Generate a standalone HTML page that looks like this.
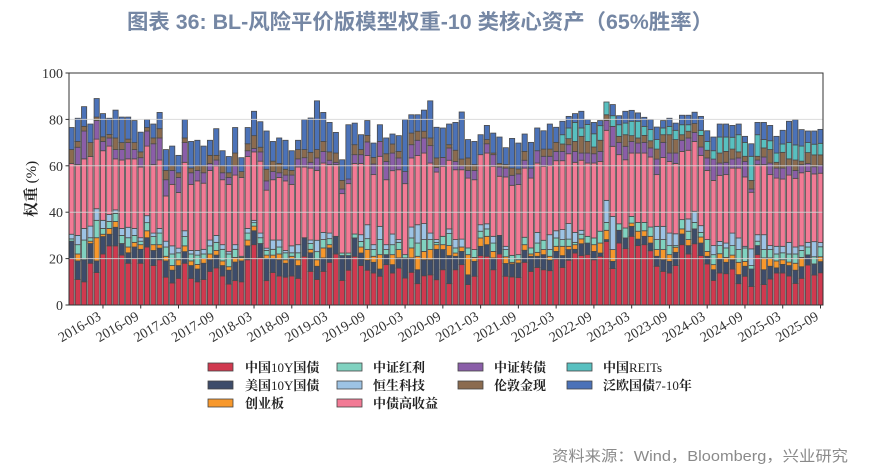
<!DOCTYPE html>
<html>
<head>
<meta charset="utf-8">
<style>
html,body{margin:0;padding:0;background:#fff;}
svg{display:block;}
.tk{font-family:"Liberation Serif","Noto Serif CJK SC",serif;font-size:14px;fill:#333;}
.lg{font-family:"Liberation Serif","Noto Serif CJK SC",serif;font-size:13px;fill:#222;}
.cj{font-weight:bold;}
</style>
</head>
<body>
<svg id="chart" width="871" height="468" viewBox="0 0 871 468" xmlns="http://www.w3.org/2000/svg">
<rect x="0" y="0" width="871" height="468" fill="#fff"/>
<text x="127" y="29" textLength="586" lengthAdjust="spacingAndGlyphs" style="font-family:'Liberation Sans','Noto Sans CJK SC',sans-serif;font-size:21px;font-weight:bold;fill:#7587a4;">图表 36: BL-风险平价版模型权重-10 类核心资产（65%胜率）</text>

<g id="bars"></g>

<g stroke="#d6d6d6" stroke-width="1" opacity="0.85">
<line x1="69" x2="823" y1="258.6" y2="258.6"/>
<line x1="69" x2="823" y1="212.2" y2="212.2"/>
<line x1="69" x2="823" y1="165.8" y2="165.8"/>
<line x1="69" x2="823" y1="119.4" y2="119.4"/>
</g>
<rect x="69" y="73" width="754" height="232" fill="none" stroke="#333" stroke-width="1"/>

<g stroke="#333" stroke-width="1">
<line x1="65.5" x2="69" y1="305" y2="305"/>
<line x1="65.5" x2="69" y1="258.6" y2="258.6"/>
<line x1="65.5" x2="69" y1="212.2" y2="212.2"/>
<line x1="65.5" x2="69" y1="165.8" y2="165.8"/>
<line x1="65.5" x2="69" y1="119.4" y2="119.4"/>
<line x1="65.5" x2="69" y1="73" y2="73"/>
</g>
<g class="tk" text-anchor="end">
<text x="63" y="310">0</text>
<text x="63" y="263.6">20</text>
<text x="63" y="217.2">40</text>
<text x="63" y="170.8">60</text>
<text x="63" y="124.4">80</text>
<text x="63" y="78">100</text>
</g>

<text transform="translate(36,189) rotate(-90)" text-anchor="middle" style="font-family:'Liberation Serif','Noto Serif CJK SC',serif;font-size:15px;fill:#222;"><tspan style="font-weight:bold">权重</tspan> (%)</text>

<g id="xticks" stroke="#333" stroke-width="1"></g>
<g class="tk" text-anchor="end" style="font-size:14px">
<text transform="translate(102,319) rotate(-30)">2016-03</text>
<text transform="translate(139.8,319) rotate(-30)">2016-09</text>
<text transform="translate(177.5,319) rotate(-30)">2017-03</text>
<text transform="translate(215.3,319) rotate(-30)">2017-09</text>
<text transform="translate(253,319) rotate(-30)">2018-03</text>
<text transform="translate(290.8,319) rotate(-30)">2018-09</text>
<text transform="translate(328.6,319) rotate(-30)">2019-03</text>
<text transform="translate(366.3,319) rotate(-30)">2019-09</text>
<text transform="translate(404.1,319) rotate(-30)">2020-03</text>
<text transform="translate(441.9,319) rotate(-30)">2020-09</text>
<text transform="translate(479.6,319) rotate(-30)">2021-03</text>
<text transform="translate(517.4,319) rotate(-30)">2021-09</text>
<text transform="translate(555.1,319) rotate(-30)">2022-03</text>
<text transform="translate(592.9,319) rotate(-30)">2022-09</text>
<text transform="translate(630.7,319) rotate(-30)">2023-03</text>
<text transform="translate(668.4,319) rotate(-30)">2023-09</text>
<text transform="translate(706.2,319) rotate(-30)">2024-03</text>
<text transform="translate(743.9,319) rotate(-30)">2024-09</text>
<text transform="translate(781.7,319) rotate(-30)">2025-03</text>
<text transform="translate(819.5,319) rotate(-30)">2025-09</text>
</g>

<g stroke="#444" stroke-width="0.8">
<rect x="208" y="363" width="25" height="8" fill="#d0394f"/>
<rect x="208" y="381" width="25" height="8" fill="#3d4c6a"/>
<rect x="208" y="399" width="25" height="8" fill="#f7982c"/>
<rect x="337" y="363" width="25" height="8" fill="#80d2c0"/>
<rect x="337" y="381" width="25" height="8" fill="#9dc3e4"/>
<rect x="337" y="399" width="25" height="8" fill="#f27a95"/>
<rect x="458" y="363" width="25" height="8" fill="#8a5ea8"/>
<rect x="458" y="381" width="25" height="8" fill="#8b6b4f"/>
<rect x="567" y="363" width="25" height="8" fill="#58c0c0"/>
<rect x="567" y="381" width="25" height="8" fill="#4b72b8"/>
</g>
<g class="lg">
<text x="245" y="372"><tspan class="cj">中国</tspan>10Y<tspan class="cj">国债</tspan></text>
<text x="245" y="390"><tspan class="cj">美国</tspan>10Y<tspan class="cj">国债</tspan></text>
<text x="245" y="408"><tspan class="cj">创业板</tspan></text>
<text x="373" y="372"><tspan class="cj">中证红利</tspan></text>
<text x="373" y="390"><tspan class="cj">恒生科技</tspan></text>
<text x="373" y="408"><tspan class="cj">中债高收益</tspan></text>
<text x="494" y="372"><tspan class="cj">中证转债</tspan></text>
<text x="494" y="390"><tspan class="cj">伦敦金现</tspan></text>
<text x="603" y="372"><tspan class="cj">中国</tspan>REITs</text>
<text x="603" y="390"><tspan class="cj">泛欧国债</tspan>7-10<tspan class="cj">年</tspan></text>
</g>

<text x="552" y="461" textLength="296" lengthAdjust="spacingAndGlyphs" style="font-family:'Liberation Sans','Noto Sans CJK SC',sans-serif;font-size:15px;fill:#8a8a8a;">资料来源：Wind，Bloomberg，兴业研究</text>
</svg>
<script>
(function(){
var D=[
[20,27.5,27.5,28.5,30.5,61,61,67,67,76.5],
[11,19,22,26,30,60.5,68,70.5,70.5,80.5],
[10,19.5,19.5,28,33,63,75,77,77,85.5],
[18,26.5,27.5,29,34,64,64,70,70,78],
[14,19,29,36.5,41.5,71.5,79.5,81,81,89],
[22,29.5,30.5,33,36.5,66.5,70.5,72.5,72.5,82.5],
[25.5,30.5,33,36,39,68.5,72,73.5,73.5,80.5],
[25.5,33.5,36,39.5,41,63,67,72,72,84],
[21.5,26.5,26.5,30,33,62.5,67,70,70,81],
[18,22.5,25,29,33.5,63,70,71.5,71.5,81],
[20,25,27,30,33,63,67,70,70,79.5],
[18,24,26,27.5,29,59.5,63.5,66,66,74.5],
[25,29,32,35.5,38.5,68.5,75,76.5,76.5,80],
[17,23.5,26,29.5,31,60.5,69.5,72,72,78],
[19.5,24.5,26,31,33,62.5,72,76,76,83],
[12,19,21,25,27.5,47,54,58,58,67],
[9.5,15,17,22,25.5,52,58,60,60,68.5],
[11.5,17,19.5,22.5,24.5,48.5,55,57,57,64.5],
[18,23,25.5,29.5,32,61.5,70,72,72,80],
[11.5,17,19,22,23.5,52,57,59,59,70.5],
[10,15.5,17.5,21.5,23.5,53.5,58,60,60,71],
[11,18,20,22,24,52.5,57,60,60,68.5],
[14.5,19.5,22,25.5,28,58,61,64.5,64.5,71],
[16,21.5,23.5,27,30,60,62.5,64.5,64.5,76],
[12.5,17,19,24,26,54,57,60,60,66.5],
[9,15,16.5,22,23,52,55,57,57,64],
[10.5,18.5,20.5,24,26,56,60,65.5,65.5,76.5],
[10,19,20.5,21,21,55,55,57.5,57.5,63.5],
[19.5,25.5,28,31,33,64,66.5,69.5,69.5,76.5],
[26,32,34,35.5,36.5,66,67.5,73,73,83.5],
[20.5,26.5,26.5,29,31,62,66,68,68,79],
[10.5,20,21.5,23.5,24.5,49.5,53.5,58.5,58.5,75],
[14,20,21.5,24,28,54,57.5,62,62,70.5],
[12.5,19.5,22,25,28,55,57,61,61,72],
[12,18,19.5,22.5,23.5,53.5,56,58.5,58.5,71],
[12.5,20,21,22.5,25.5,52,56,58,58,66.5],
[11.5,17,19.5,22.5,26,59.5,63,67,67,71],
[21,29,29,29,29,59.5,63.5,67,67,80],
[14.5,22.5,24,26.5,28,59,61.5,65.8,65.8,80.6],
[11,16.7,19.5,23,27.9,58,63.4,67,67,88],
[14.5,20.3,24.6,28.2,31.3,61.2,66.2,70.5,70.5,83],
[18.4,24.6,26,28.6,31,60.5,62.4,66,66,78.7],
[22,29.6,29.6,29.6,29.6,60.5,61.5,65.5,65.5,74.4],
[10.6,21.3,21.3,22.4,22.4,48,50,53.7,53.7,62.6],
[15,21.3,21.3,22.4,22.4,52.3,54.3,54.3,54.3,77.7],
[21,28.9,28.9,30.6,30.6,61,64.8,69.1,69.1,78.4],
[17,22.4,25,27.4,30.3,61,64.8,67,67,73.4],
[15,19.3,23.9,28.6,34.6,64.4,70.3,73.1,73.1,79.5],
[13.8,18.4,21,23.9,26,56.2,60.8,63.6,63.6,69.8],
[12.4,15.5,21.7,28.2,33.9,64.1,70.5,70.5,70.5,77.7],
[17.4,21.7,21.7,23.9,26,54,61.9,65.2,65.2,72],
[13.8,17.4,21.7,26,30.6,57.9,65.5,69.4,69.4,73.7],
[15.9,20.3,23.9,27,28.2,58.3,63.4,66.2,66.2,73],
[11.6,20.3,20.3,21.7,21.7,52.3,57.5,57.5,57.5,80],
[14.1,20.3,24.6,28.9,33.6,63.4,69.1,74.1,74.1,82],
[9.2,15.2,21,26.7,34.6,64.4,71,74.9,74.9,82],
[12.6,19.5,23.1,28.2,35.1,65.5,72,74.9,74.9,84],
[13,19.5,23.9,28.2,31,61.2,68.7,72,72,88],
[10.9,24,26,27,28.2,57.3,59.3,63.4,63.4,76.6],
[15.2,23.9,26,29.6,29.6,59.8,63.6,63.6,63.6,76.3],
[9.2,21.3,25.6,30.8,32.8,62.4,67.7,69.1,69.1,78],
[15.2,21,22.4,24.6,28.2,58.3,61.9,66.7,66.7,78.7],
[17.4,23.1,25,25,28.4,58.3,60,62.9,62.9,83.2],
[8.8,13,21.7,24.6,24.6,54.7,58,63.4,63.4,71.3],
[12.4,18.8,20.5,23.9,23.9,54,58,60.5,60.5,70.5],
[21.3,25.3,28.9,31.8,34.6,64.8,64.8,64.8,64.8,73.4],
[21,26,29.6,32.8,35,65.5,69.5,71.3,71.3,77.4],
[15.2,20.3,23.1,26.7,29.6,59.8,64.8,65.5,65.5,74.1],
[22,30,30,30,30,55.5,59.5,61,61,72.4],
[12.4,17.9,20.8,23.9,25.3,55.2,59,60.5,60.5,67.8],
[12.1,17.7,18.4,21.4,21.4,51.6,55.9,59,59,71.8],
[11.8,18.1,19.5,21.7,21.7,51.9,56.5,58.6,58.6,69.8],
[18.4,23.6,26,29.2,29.2,59,62.4,66.2,66.2,73.7],
[14.5,21,22,24.6,24.6,54.7,59,59,59,70.1],
[16.2,21,22.7,26.7,31.3,61.2,66.5,66.5,66.5,76.3],
[15.2,21.7,23.9,27.9,27.9,59.8,64.1,67.2,67.2,75.1],
[14.8,19.3,21,23.9,30.3,60.1,64.1,67.2,67.2,78],
[19.8,23.1,25.3,28.9,32,62.2,66.2,70.1,70.1,76.6],
[16.2,21.3,25.3,28.2,32.5,62.2,66.2,69.4,73.4,79.2],
[19.3,23.9,25.3,28.4,35.1,65.2,69.1,71.7,76.3,81.3],
[22.4,24,26,27,31.3,61.5,66.2,70.5,78.7,82.5],
[21.3,26.4,28.5,30.5,32.2,62.4,65.5,72.7,76.3,83.5],
[21.7,26.7,26.7,29.6,29.6,61.2,65.5,70.5,77.8,80],
[19.5,23.1,26,28.9,28.9,61.2,65.2,68.1,73.8,78.7],
[21,22.4,26.7,31.8,31.8,61.9,66.2,71,77.3,79.5],
[27.4,28.2,32.2,35.6,45.1,75.3,79.5,82,87.5,87.5],
[15.7,18.8,23.9,23.9,38.2,68.4,77,77,81.6,86.4],
[26.7,32.2,32.2,35,35,64.8,70.1,72.7,77.7,81.6],
[24.3,28.9,28.9,33.2,33.2,62.6,68.4,73.4,78.4,83.5],
[29.6,33.9,35.3,38.2,38.2,65.5,70.5,73,79.2,83.9],
[25.6,28.4,31.8,35.6,35.6,65.5,69.8,72,79.2,82.8],
[26,29.6,32,35.6,35.6,65.5,70.1,73.1,77,80.9],
[23.4,26.7,29.6,33.6,33.6,63.8,67.7,70.8,75.6,80],
[16.7,21,23.9,28.2,33.9,56.2,62.9,67.2,71.3,76.7],
[14.5,19.5,23.9,28.2,33.9,63.6,70.1,73.4,76.3,79.5],
[13.8,18.8,21.7,25.6,31,61.9,65.5,73.4,77,80.5],
[17,22.7,24.9,25.6,30.7,61,65.5,71.3,75.3,78.4],
[26,30.6,32.8,36.8,36.8,66.2,71,73.4,77.7,81.8],
[22,25.6,28.2,31.8,37.1,66.7,72,74.9,77.7,81.8],
[26.4,32.8,32.8,35.6,40.4,70.5,74.4,78.2,78.2,83.1],
[21.3,26.7,29.3,31.3,34.2,64.5,68.1,73.1,75.3,81.3],
[17.7,21,23.1,28.2,28.2,58,63.4,66.7,70.5,75.1],
[10.6,15.2,17.4,21.7,25.6,53.7,62.9,62.9,66.5,72.4],
[13.8,19.8,22.1,25.6,27.4,55.9,61.2,65.5,72.4,78],
[13.5,18.4,20.5,24.6,26.7,56.2,61.5,66.2,72.4,78],
[15.5,19.5,21.5,25.6,31,59,62.9,67.2,72.3,77.4],
[9.2,13.1,18.4,23.9,28.9,59,63.4,66,73.4,78],
[12.4,16.7,18.8,24.6,25.3,55.2,61.9,64.1,70.1,72.7],
[8,15.5,15.5,17,24.2,48.6,50,53.7,64.1,69.5],
[21.7,25.6,25.6,27.5,30.3,60.5,62.5,64.1,73.4,78.7],
[8.8,15.2,20.3,23.9,30.3,60.5,63.8,67.7,71.3,78.7],
[11.2,16.7,20.3,23.9,25.6,56.2,61.2,67,70.8,77.4],
[13.8,16,19,22,25.3,54.7,59,61.5,65.5,72.7],
[13.8,17.5,19.5,22.5,25.3,54.3,59,65.8,69.4,75.3],
[12.5,17,18.5,22,27,56,60,63,70,79.2],
[9.3,15,18,22,25,54.6,58,62.5,69,79.9],
[11.5,16.5,20.5,23.5,25.5,57,60.5,62,68.5,75.6],
[17.2,21.6,21.6,25,27,57.5,61,65.7,70,75],
[12.9,17.7,17.7,20.8,27.3,56.5,59.6,64.7,69.3,75],
[13.9,18.7,20.8,25.1,26.9,56.8,60.3,64.7,69.7,75.7]
];
var C=['#d0394f','#3d4c6a','#f7982c','#80d2c0','#9dc3e4','#f27a95','#8a5ea8','#8b6b4f','#58c0c0','#4b72b8'];
var NS='http://www.w3.org/2000/svg';
var g=document.getElementById('bars');
function Y(v){return 305-2.32*v;}
for(var i=0;i<D.length;i++){
  var cx=71.5+6.294*i, b=0, r=D[i];
  for(var j=0;j<r.length;j++){
    var t=r[j];
    if(t-b>0.05){
      var e=document.createElementNS(NS,'rect');
      e.setAttribute('x',(cx-2.6).toFixed(2));
      e.setAttribute('y',Y(t).toFixed(2));
      e.setAttribute('width','5.2');
      e.setAttribute('height',(Y(b)-Y(t)).toFixed(2));
      e.setAttribute('fill',C[j]);
      e.setAttribute('stroke','#4a4a4a');
      e.setAttribute('stroke-width','0.8');
      g.appendChild(e);
    }
    if(t>b)b=t;
  }
}
var xt=document.getElementById('xticks');
for(var k=0;k<20;k++){
  var x=71.5+6.294*(5+6*k);
  var l=document.createElementNS(NS,'line');
  l.setAttribute('x1',x.toFixed(2));l.setAttribute('x2',x.toFixed(2));
  l.setAttribute('y1','305');l.setAttribute('y2','308.5');
  xt.appendChild(l);
}
})();
</script>
</body>
</html>
